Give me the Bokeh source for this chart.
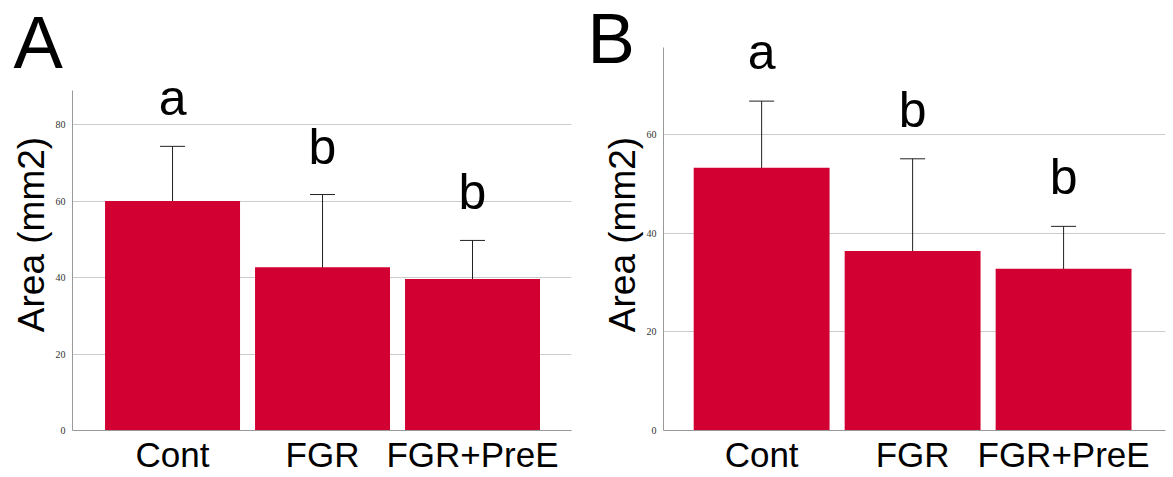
from bokeh.plotting import figure
from bokeh.models import ColumnDataSource, Whisker, FixedTicker, Range1d, TeeHead, Title
from bokeh.layouts import row
from bokeh.embed import file_html
from bokeh.resources import INLINE
from bokeh.core.properties import value

categories = ["Cont", "FGR", "FGR+PreE"]
a_means = [60.0, 42.7, 39.6]
a_lower = [45.9, 23.8, 29.7]
a_upper = [74.3, 61.7, 49.7]
a_letters = ["a", "b", "b"]
b_means = [53.3, 36.4, 32.8]
b_lower = [39.7, 17.8, 24.2]
b_upper = [66.8, 55.1, 41.4]
b_letters = ["a", "b", "b"]
a_ticks = [0, 20, 40, 60, 80]
b_ticks = [0, 20, 40, 60]

FONT = "Liberation Sans"
BAR = "#D20032"


def panel(means, lower, upper, letters, ticks, yend, ybound, xr, w, borders,
          panel_letter, pl_size, pl_offset, pl_standoff, letter_off):
    xs = list(range(len(categories)))
    src = ColumnDataSource(dict(x=xs, mean=means, lower=lower, upper=upper, letter=letters))
    p = figure(width=w, height=477, output_backend="svg", toolbar_location=None,
               x_range=Range1d(*xr), y_range=Range1d(0, yend))
    p.min_border_left, p.min_border_right, p.min_border_top, p.min_border_bottom = borders
    p.outline_line_color = None
    p.vbar(x="x", top="mean", bottom=0, width=0.9, source=src, fill_color=BAR, line_color=None)
    wh = Whisker(base="x", upper="upper", lower="lower", source=src, line_color="#222222", line_width=1,
                 upper_head=TeeHead(size=25, line_color="#222222", line_width=1),
                 lower_head=TeeHead(size=25, line_color="#222222", line_width=1))
    p.add_layout(wh)
    p.text(x="x", y="upper", text="letter", source=src, y_offset=letter_off,
           text_align="center", text_baseline="alphabetic",
           text_font=value(FONT), text_font_size="50px", text_color="black")

    p.xaxis.ticker = FixedTicker(ticks=xs)
    p.xaxis.major_label_overrides = {i: c for i, c in zip(xs, categories)}
    p.xaxis.major_tick_line_color = None
    p.xaxis.major_tick_out = 0
    p.xaxis.major_tick_in = 0
    p.xaxis.minor_tick_line_color = None
    p.xaxis.axis_line_color = "#999999"
    p.xaxis.major_label_text_font = FONT
    p.xaxis.major_label_text_font_size = "35px"
    p.xaxis.major_label_text_color = "black"
    p.xaxis.major_label_standoff = 4

    p.yaxis.ticker = FixedTicker(ticks=ticks)
    p.yaxis.bounds = (0, ybound)
    p.yaxis.major_tick_line_color = None
    p.yaxis.major_tick_out = 0
    p.yaxis.major_tick_in = 0
    p.yaxis.minor_tick_line_color = None
    p.yaxis.axis_line_color = "#999999"
    p.yaxis.major_label_text_font = "Liberation Sans Narrow"
    p.yaxis.major_label_text_font_size = "10px"
    p.yaxis.major_label_text_color = "#333333"
    p.yaxis.major_label_standoff = 7
    p.yaxis.axis_label = "Area (mm2)"
    p.yaxis.axis_label_text_font = FONT
    p.yaxis.axis_label_text_font_size = "37px"
    p.yaxis.axis_label_text_font_style = "normal"
    p.yaxis.axis_label_text_color = "black"
    p.yaxis.axis_label_standoff = 1

    p.xgrid.visible = False
    p.ygrid.ticker = FixedTicker(ticks=[t for t in ticks if t > 0])
    p.ygrid.grid_line_color = "#cccccc"
    p.ygrid.grid_line_width = 1

    p.title = Title(text=panel_letter, text_font=FONT, text_font_size=pl_size,
                    text_font_style="normal", text_color="black", align="left",
                    vertical_align="bottom", offset=pl_offset, standoff=pl_standoff)
    return p


pA = panel(a_means, a_lower, a_upper, a_letters, a_ticks, 102.5, 88.9, (-0.667, 2.66), 580,
           (72, 9, 38, 47), "A", "74px", -59, -91, -48)
pB = panel(b_means, b_lower, b_upper, b_letters, b_ticks, 79.5, 77.7, (-0.65, 2.675), 593,
           (83, 8, 38, 47), "B", "71px", -76, -78, -49)

layout = row(pA, pB)
open("out.html", "w").write(file_html(layout, INLINE))
